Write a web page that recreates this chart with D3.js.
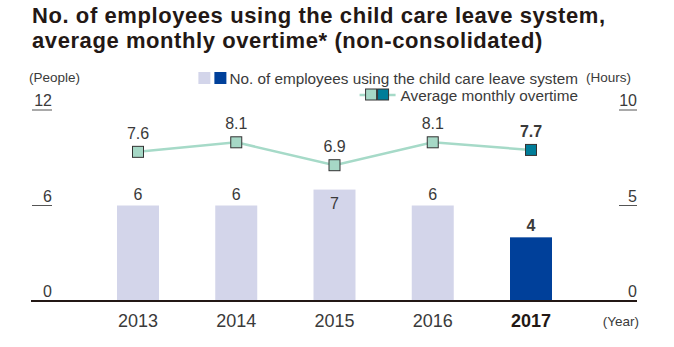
<!DOCTYPE html>
<html>
<head>
<meta charset="utf-8">
<script src="https://cdn.jsdelivr.net/npm/d3@7"></script>
<style>
  html, body { margin: 0; padding: 0; background: #fff; }
  svg { display: block; font-family: "Liberation Sans", Arial, Helvetica, sans-serif; }
</style>
</head>
<body>
<svg id="chart" width="674" height="347"></svg>
<script>
// Fiscal years shown on the category axis
const years = ["2013", "2014", "2015", "2016", "2017"];
// Employees using the child care leave system (people)
const leaveUsers = [6, 6, 7, 6, 4];
// Average monthly overtime (hours)
const overtime = [7.6, 8.1, 6.9, 8.1, 7.7];
// Axis ticks
const leftTicks = [0, 6, 12];
const rightTicks = [0, 5, 10];
const latestYear = "2017";

const colors = {
  barPast: "#d3d5ea",
  barLatest: "#00409a",
  line: "#a6dac8",
  markerPast: "#a6d8c6",
  markerLatest: "#007d99",
  text: "#3a3a3a",
  dark: "#231815"
};

const svg = d3.select("#chart");

// Title (two lines)
const title = svg.append("text")
  .attr("fill", colors.dark)
  .style("font-size", "22px").style("font-weight", "bold")
  .style("letter-spacing", "0.58px");
title.append("tspan").attr("x", 32).attr("y", 22.5)
  .text("No. of employees using the child care leave system,");
title.append("tspan").attr("x", 32).attr("y", 47.5)
  .text("average monthly overtime* (non-consolidated)");

// Scales
const x = d3.scalePoint().domain(years).range([138, 531]);
const barWidth = 42;
const yL = d3.scaleLinear().domain([0, 12]).range([301, 110]);
const yR = d3.scaleLinear().domain([0, 10]).range([297, 106]);

// Unit labels
svg.append("text").attr("x", 29).attr("y", 82).attr("fill", colors.text)
  .style("font-size", "13.5px").text("(People)");
svg.append("text").attr("x", 631).attr("y", 82).attr("text-anchor", "end").attr("fill", colors.text)
  .style("font-size", "13.5px").text("(Hours)");
svg.append("text").attr("x", 639).attr("y", 326).attr("text-anchor", "end").attr("fill", colors.text)
  .style("font-size", "13.5px").text("(Year)");

// Left axis: value labels with a short rule underneath
const leftAxis = svg.append("g");
leftTicks.forEach(v => {
  leftAxis.append("text").attr("x", 52).attr("y", yL(v) - 4)
    .attr("text-anchor", "end").attr("fill", colors.text)
    .style("font-size", "16px").text(v);
  if (v !== 0) {
    leftAxis.append("line").attr("x1", 32).attr("x2", 52)
      .attr("y1", yL(v)).attr("y2", yL(v))
      .attr("stroke", "#555").attr("stroke-width", 1);
  }
});

// Right axis
const rightAxis = svg.append("g");
rightTicks.forEach(v => {
  rightAxis.append("text").attr("x", 637).attr("y", v === 0 ? 297 : yR(v))
    .attr("text-anchor", "end").attr("fill", colors.text)
    .style("font-size", "16px").text(v);
  if (v !== 0) {
    rightAxis.append("line").attr("x1", 619).attr("x2", 637)
      .attr("y1", yR(v) + 4).attr("y2", yR(v) + 4)
      .attr("stroke", "#555").attr("stroke-width", 1);
  }
});

// Bars
const barData = years.map((y, i) => ({ year: y, value: leaveUsers[i] }));
svg.append("g").selectAll("rect").data(barData).join("rect")
  .attr("x", d => x(d.year) - barWidth / 2)
  .attr("width", barWidth)
  .attr("y", d => yL(d.value))
  .attr("height", d => yL(0) - yL(d.value))
  .attr("fill", d => d.year === latestYear ? colors.barLatest : colors.barPast);

// Bar value labels (the 2015 label sits inside the bar, clear of the line)
svg.append("g").selectAll("text").data(barData).join("text")
  .attr("x", d => x(d.year))
  .attr("y", d => d.year === "2015" ? yL(d.value) + 19 : yL(d.value) - 6)
  .attr("text-anchor", "middle")
  .attr("fill", colors.text)
  .style("font-size", "16px")
  .style("font-weight", d => d.year === latestYear ? "bold" : "normal")
  .text(d => d.value);

// Baseline
svg.append("line").attr("x1", 31).attr("x2", 637)
  .attr("y1", 301).attr("y2", 301)
  .attr("stroke", colors.dark).attr("stroke-width", 2.2);

// Overtime line
const lineData = years.map((y, i) => ({ year: y, value: overtime[i] }));
svg.append("path").datum(lineData)
  .attr("fill", "none").attr("stroke", colors.line).attr("stroke-width", 2.5)
  .attr("d", d3.line().x(d => x(d.year)).y(d => yR(d.value)));

const ms = 11;
svg.append("g").selectAll("rect").data(lineData).join("rect")
  .attr("x", d => x(d.year) - ms / 2)
  .attr("y", d => yR(d.value) - ms / 2)
  .attr("width", ms).attr("height", ms)
  .attr("fill", d => d.year === latestYear ? colors.markerLatest : colors.markerPast)
  .attr("stroke", "#333").attr("stroke-width", 1);

svg.append("g").selectAll("text").data(lineData).join("text")
  .attr("x", d => x(d.year))
  .attr("y", d => yR(d.value) - 13)
  .attr("text-anchor", "middle")
  .attr("fill", colors.text)
  .style("font-size", "16px")
  .style("font-weight", d => d.year === latestYear ? "bold" : "normal")
  .text(d => d.value.toFixed(1));

// Category labels
svg.append("g").selectAll("text").data(years).join("text")
  .attr("x", d => x(d)).attr("y", 327)
  .attr("text-anchor", "middle")
  .attr("fill", d => d === latestYear ? colors.dark : colors.text)
  .style("font-size", "18px")
  .style("font-weight", d => d === latestYear ? "bold" : "normal")
  .text(d => d);

// Legend
const legend = svg.append("g");
const lt1 = legend.append("text").attr("x", 578).attr("y", 84)
  .attr("text-anchor", "end").attr("fill", colors.text)
  .style("font-size", "15.3px").text("No. of employees using the child care leave system");
const w1 = lt1.node().getComputedTextLength();
const s1 = 578 - w1 - 2;
legend.append("rect").attr("x", s1 - 13).attr("y", 72).attr("width", 12).attr("height", 12).attr("fill", colors.barLatest);
legend.append("rect").attr("x", s1 - 29).attr("y", 72).attr("width", 12).attr("height", 12).attr("fill", colors.barPast);

const lt2 = legend.append("text").attr("x", 578).attr("y", 101)
  .attr("text-anchor", "end").attr("fill", colors.text)
  .style("font-size", "15.3px").text("Average monthly overtime");
const w2 = lt2.node().getComputedTextLength();
const s2 = 578 - w2 - 5;
legend.append("line").attr("x1", s2 - 36).attr("x2", s2).attr("y1", 95).attr("y2", 95)
  .attr("stroke", colors.line).attr("stroke-width", 2.5);
legend.append("rect").attr("x", s2 - 30).attr("y", 89).attr("width", 11).attr("height", 11)
  .attr("fill", colors.markerPast).attr("stroke", "#333").attr("stroke-width", 1);
legend.append("rect").attr("x", s2 - 18).attr("y", 89).attr("width", 11).attr("height", 11)
  .attr("fill", colors.markerLatest).attr("stroke", "#333").attr("stroke-width", 1);
</script>
</body>
</html>
